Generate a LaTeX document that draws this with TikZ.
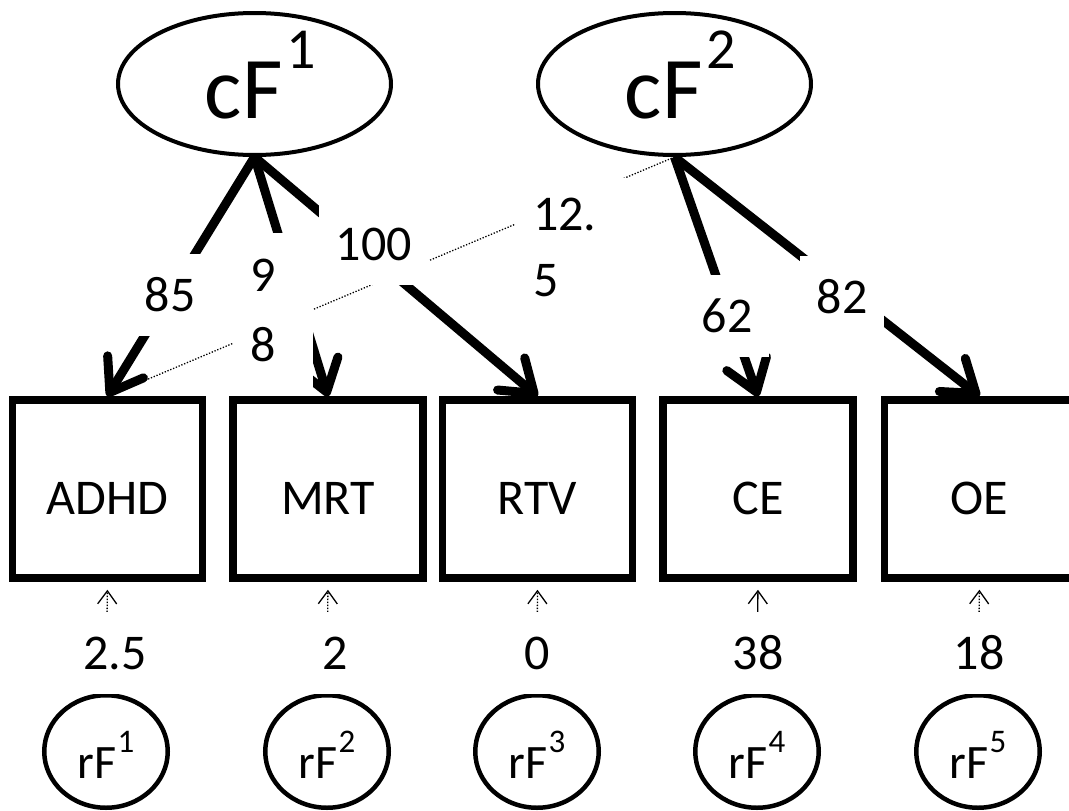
\documentclass[tikz,border=0pt]{standalone}
\usepackage{fontspec}
\setmainfont{Carlito}
\usetikzlibrary{arrows.meta,shapes.geometric,calc}
\newcommand\fsz[2]{\fontsize{#1}{#2}\selectfont}
\newcommand\bigsup[1]{\hspace*{12pt}cF\hspace{4pt}\raisebox{50pt}{\fsz{58}{58}#1}}
\newcommand\smallsup[1]{rF\hspace{1pt}\raisebox{26pt}{\fsz{33}{33}#1}}
\begin{document}
\begin{tikzpicture}[x=1pt,y=-1pt,
  lat/.style={ellipse, draw, line width=4pt, minimum width=273pt, minimum height=142pt, inner sep=0pt, text height=68pt, text depth=0pt, font=\fsz{88}{100}},
  obs/.style={rectangle, draw, line width=7.5pt, minimum width=190pt, minimum height=178pt, inner sep=0pt, text height=50pt, text depth=0pt, font=\fsz{50}{60}},
  res/.style={ellipse, draw, line width=4.5pt, minimum width=123.5pt, minimum height=112.5pt, inner sep=0pt, text height=53pt, text depth=0pt, font=\fsz{48}{58}},
  load/.style={line width=9pt, -{Straight Barb[round, length=30pt, width=42pt]}},
  weak/.style={line width=1.3pt, dash pattern=on 1.3pt off 1.7pt},
  resarrow/.style={line width=1.3pt, -{Straight Barb[length=13pt, width=19pt, line width=1.3pt]}, shorten >=8pt},
  dotres/.style={resarrow, dash pattern=on 1.3pt off 1.7pt},
  lab/.style={fill=white, inner xsep=17pt, inner ysep=25pt, text height=32pt, text depth=0pt, font=\fsz{50}{60}},
  labtwo/.style={fill=white, inner xsep=18pt, inner ysep=0pt, align=left}
]
\useasboundingbox (0,0) rectangle (1069,811);

% latent factors
\node[lat] (cF1) at (254.5,84) {\bigsup{1}};
\node[lat] (cF2) at (674.5,84) {\bigsup{2}};

% observed variables
\node[obs] (ADHD) at (107.5,489) {ADHD};
\node[obs] (MRT)  at (328,489)   {MRT};
\node[obs] (RTV)  at (537.5,489) {RTV};
\node[obs] (CE)   at (758,489)   {CE};
\node[obs] (OE)   at (979.5,489) {OE};

% residual factors
\node[res] (rF1) at (106,751.5) {\smallsup{1}};
\node[res] (rF2) at (327,751.5) {\smallsup{2}};
\node[res] (rF3) at (537,751.5) {\smallsup{3}};
\node[res] (rF4) at (757,751.5) {\smallsup{4}};
\node[res] (rF5) at (978,751.5) {\smallsup{5}};

% loadings
\draw[weak] (cF2.south) -- (ADHD.north);
\draw[load] (cF1.south) -- (ADHD.north);
\draw[load] (cF1.south) -- (MRT.north);
\draw[load] (cF1.south) -- (RTV.north);
\draw[load] (cF2.south) -- (CE.north);
\draw[load] (cF2.south) -- (OE.north);

% residual paths
\draw[dotres] (rF1.north) -- (ADHD.south);
\draw[dotres] (rF2.north) -- (MRT.south);
\draw[dotres] (rF3.north) -- (RTV.south);
\draw[resarrow] (rF4.north) -- (CE.south);
\draw[dotres] (rF5.north) -- (OE.south);

% labels
\node[lab] (l85)  at (170,295) {85};
\node[labtwo, text width=44pt, minimum height=155pt, font=\fsz{50}{70}] (l98) at (272.5,310) {9\\8};
\node[lab] (l100) at (374,244) {100};
\node[labtwo, text width=78pt, minimum height=138pt, font=\fsz{50}{66}] (l125) at (572,247) {12.\\5};
\node[lab] (l62)  at (727,316) {62};
\node[lab] (l82)  at (842,297) {82};

\node[lab] (e1) at (115,653) {2.5};
\node[lab] (e2) at (335,653) {2};
\node[lab] (e3) at (537,653) {0};
\node[lab] (e4) at (758,653) {38};
\node[lab] (e5) at (979,653) {18};
\end{tikzpicture}
\end{document}
